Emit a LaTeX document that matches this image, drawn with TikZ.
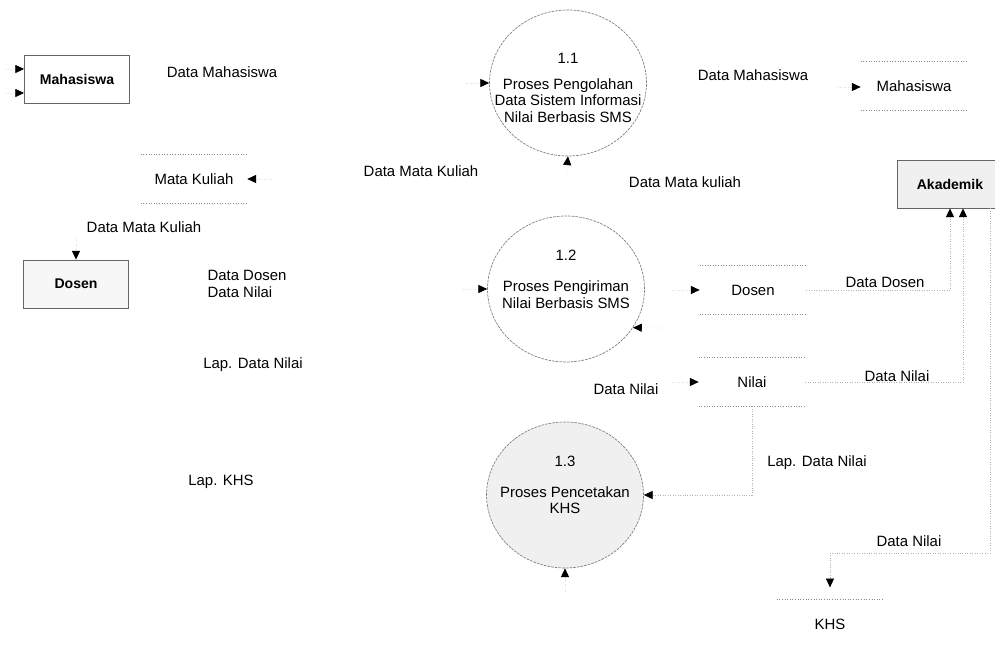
\documentclass[tikz,border=0pt]{standalone}
\usepackage{fontspec}
\setmainfont{Liberation Sans}
\usetikzlibrary{shapes.geometric,arrows.meta,calc}

\tikzset{
  entity/.style={draw=black!60, line width=0.5pt, minimum width=2.1cm, minimum height=0.96cm, font=\fontsize{8}{9.4}\selectfont\bfseries},
  proc/.style={ellipse, draw=black!50, dash pattern=on 1.5pt off 0.6pt, minimum width=3.14cm, minimum height=2.92cm},
  proctext/.style={align=center, inner sep=0pt, font=\fontsize{8.5}{9.4}\selectfont},
  store/.style={minimum width=2.12cm, minimum height=0.96cm, font=\fontsize{8.5}{10}\selectfont},
  storeline/.style={draw=black!45, densely dotted, line width=0.5pt},
  lbl/.style={inner sep=0pt, font=\fontsize{8.5}{9.3}\selectfont},
  flow/.style={draw=black!30, densely dotted, line width=0.4pt, -{Triangle[length=5pt,width=4.6pt,color=black]}},
  stub/.style={flow, draw=black!12},
}

\begin{document}
\begin{tikzpicture}[x=0.02cm, y=-0.02cm]
\useasboundingbox (0,0) rectangle (995,645);

% external entities
\node[entity] (mhs) at (77,79) {Mahasiswa};
\node[entity, fill=black!3] (dsn) at (76,284) {Dosen};
\node[entity, fill=black!6] (akd) at (950,184) {Akademik};

% processes
\node[proc] (p11) at (568,83) {};
\node[proctext] (p11t) at (568,88) {1.1\\[5pt]Proses Pengolahan\\Data Sistem Informasi\\Nilai Berbasis SMS};
\node[proc] (p12) at (566,289) {};
\node[proctext] (p12t) at (566,279) {1.2\\[8.6pt]Proses Pengiriman\\Nilai Berbasis SMS};
\node[proc, fill=black!6] (p13) at (565,495) {};
\node[proctext] (p13t) at (565,485) {1.3\\[8pt]Proses Pencetakan\\KHS};

% data stores
\node[store] (mks) at (194,179) {Mata Kuliah};
\node[store] (ms2) at (914,86) {Mahasiswa};
\node[store] (ds2) at (753,290) {Dosen};
\node[store] (nil) at (752,382) {Nilai};
\node[store] (khs) at (830,624) {KHS};
\foreach \s in {mks,ms2,ds2,nil}
  \draw[storeline] (\s.north west) -- (\s.north east) (\s.south west) -- (\s.south east);
\draw[storeline] (khs.north west) -- (khs.north east);

% flow labels
\node[lbl] (l1) at (222,72) {Data Mahasiswa};
\node[lbl] (l2) at (144,227) {Data Mata Kuliah};
\node[lbl, align=left] (l3) at (247,284) {Data Dosen\\Data Nilai};
\node[lbl] (l4) at (253,365) {Lap. Data Nilai};
\node[lbl] (l5) at (221,482) {Lap. KHS};
\node[lbl] (l6) at (421,171) {Data Mata Kuliah};
\node[lbl] (l7) at (753,75) {Data Mahasiswa};
\node[lbl] (l8) at (685,182) {Data Mata kuliah};
\node[lbl] (l9) at (885,282) {Data Dosen};
\node[lbl] (l10) at (897,376) {Data Nilai};
\node[lbl] (l11) at (626,389) {Data Nilai};
\node[lbl] (l12) at (817,463) {Lap. Data Nilai};
\node[lbl] (l13) at (909,541) {Data Nilai};

% lines that still show
\draw[flow] (ds2.east) -| (akd.south);
\draw[flow] (nil.east) -| ([xshift=0.26cm]akd.south);
\draw[flow] (nil.south) |- (p13.east);
\coordinate (k1) at (990,553);
\draw[flow, shorten >=7pt] (akd.south -| k1) -- (k1) -| (khs.north);

% the rest have faded, only the heads are left
\coordinate (s1) at (6,69);
\coordinate (s2) at (6,93);
\coordinate (s3) at (272,179);
\coordinate (s4) at (466,83);
\coordinate (s5) at (566,178);
\coordinate (s6) at (838,87);
\coordinate (s7) at (76,238);
\coordinate (s8) at (463,289);
\coordinate (s9) at (662,328);
\coordinate (s10) at (672,290);
\coordinate (s11) at (672,382);
\coordinate (s12) at (565,592);
\draw[stub] (s1) -- (s1 -| mhs.west);
\draw[stub] (s2) -- (s2 -| mhs.west);
\draw[stub] (s3) -- (s3 -| mks.east);
\draw[stub] (s4) -- (p11.west);
\draw[stub] (s5) -- (p11.south);
\draw[stub] (s6) -- (s6 -| ms2.west);
\draw[stub] (s7) -- (dsn.north);
\draw[stub] (s8) -- (p12.west);
\draw[stub] (s9) -- (p12.-30);
\draw[stub] (s10) -- (ds2.west);
\draw[stub] (s11) -- (nil.west);
\draw[stub] (s12) -- (p13.south);
\end{tikzpicture}
\end{document}
